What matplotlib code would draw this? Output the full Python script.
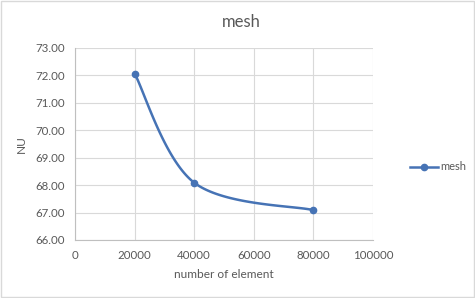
import numpy as np
import matplotlib
matplotlib.use("Agg")
import matplotlib.pyplot as plt
from matplotlib.lines import Line2D

x_vals = [20000, 40000, 80000]
nu_vals = [72.07, 68.09, 67.09]
series_name = "mesh"
x_ticks = [0, 20000, 40000, 60000, 80000, 100000]
y_ticks = [66, 67, 68, 69, 70, 71, 72, 73]

plt.rcParams['font.family'] = ['Lato', 'DejaVu Sans']
txt = '#595959'

def excel_smooth(xs, ys, n=60):
    xs = np.asarray(xs, float); ys = np.asarray(ys, float)
    px, py = [], []
    m = len(xs)
    for i in range(m - 1):
        x0, y0 = (xs[i-1], ys[i-1]) if i > 0 else (xs[i], ys[i])
        x1, y1 = xs[i], ys[i]
        x2, y2 = xs[i+1], ys[i+1]
        x3, y3 = (xs[i+2], ys[i+2]) if i + 2 < m else (xs[i+1], ys[i+1])
        c1x = x1 + (x2 - x0) / 6; c1y = y1 + (y2 - y0) / 6
        c2x = x2 - (x3 - x1) / 6; c2y = y2 - (y3 - y1) / 6
        t = np.linspace(0, 1, n)
        bx = (1-t)**3*x1 + 3*(1-t)**2*t*c1x + 3*(1-t)*t**2*c2x + t**3*x2
        by = (1-t)**3*y1 + 3*(1-t)**2*t*c1y + 3*(1-t)*t**2*c2y + t**3*y2
        px.extend(bx); py.extend(by)
    return np.array(px), np.array(py)

fig = plt.figure(figsize=(4.75, 2.98), dpi=100)
fig.patch.set_facecolor('white')
ax = fig.add_axes([75/475, 1-240/298, (373-75)/475, (240-48)/298])

color = '#4673B5'
sx, sy = excel_smooth(x_vals, nu_vals)
ax.plot(sx, sy, color=color, lw=1.8, solid_capstyle='round', zorder=3)
ax.plot(x_vals, nu_vals, 'o', color=color, ms=4.5, zorder=4)
h = Line2D([], [], color=color, lw=1.8, marker='o', ms=4.5)
fig.legend([h], [series_name], loc='center left', bbox_to_anchor=(400/475, 1-167/298),
           frameon=False, fontsize=8, labelcolor=txt, handlelength=2.5, handletextpad=0.2)

ax.set_xlim(0, 100000)
ax.set_ylim(66, 73)
ax.set_xticks(x_ticks)
ax.set_xticklabels([str(v) for v in x_ticks])
ax.set_yticks(y_ticks)
ax.set_yticklabels([f"{v:.2f}" for v in y_ticks])
ax.grid(True, color='#D9D9D9', lw=0.8)
ax.set_axisbelow(True)
for s in ['top', 'right']:
    ax.spines[s].set_visible(False)
for s in ['left', 'bottom']:
    ax.spines[s].set_color('#BFBFBF')
    ax.spines[s].set_linewidth(0.8)
ax.tick_params(length=0, labelsize=8.3, labelcolor=txt, pad=7)
ax.set_xlabel('number of element', fontsize=8.6, color=txt, labelpad=6)
ax.set_ylabel('NU', fontsize=8.6, color=txt, labelpad=6)
fig.text(241/475, 1-22/298, 'mesh', ha='center', va='center', fontsize=12, color=txt)

fig.add_artist(plt.Rectangle((0.002, 0.002), 0.996, 0.996, transform=fig.transFigure,
                             fill=False, ec='#D9D9D9', lw=1))
fig.savefig('out.png', dpi=100, facecolor='white')
